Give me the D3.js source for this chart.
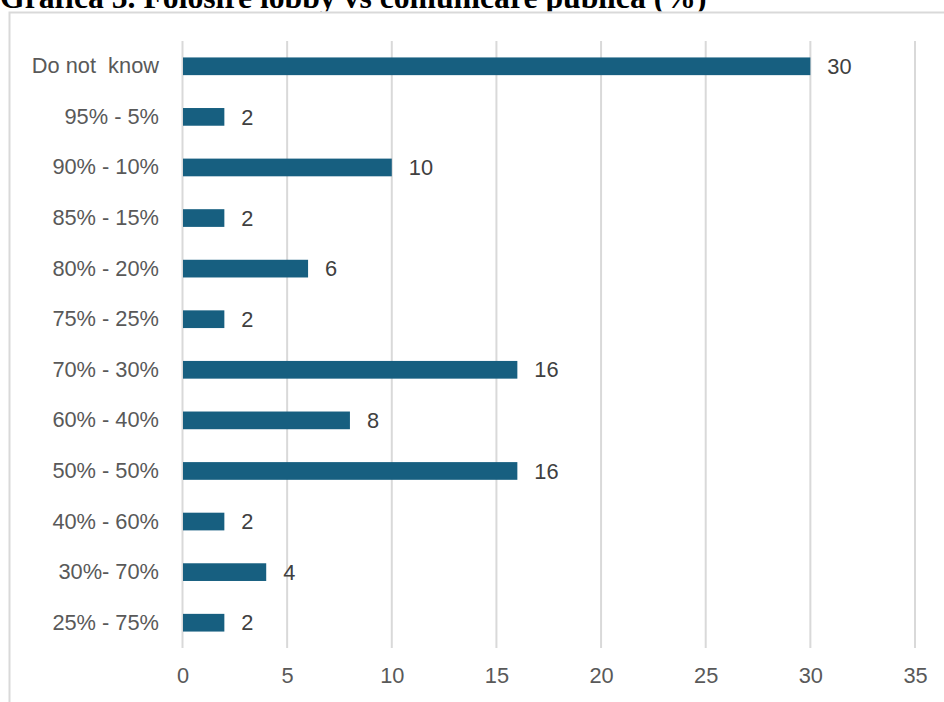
<!DOCTYPE html>
<html>
<head>
<meta charset="utf-8">
<script src="https://cdn.jsdelivr.net/npm/d3@7"></script>
<style>
  html, body { margin: 0; padding: 0; background: #fff; }
  svg { display: block; }
</style>
</head>
<body>
<script>
// Response categories (lobby share vs public communication share)
const categories = [
  "Do not  know", "95% - 5%", "90% - 10%", "85% - 15%", "80% - 20%", "75% - 25%",
  "70% - 30%", "60% - 40%", "50% - 50%", "40% - 60%", "30%- 70%", "25% - 75%"
];
const values = [30, 2, 10, 2, 6, 2, 16, 8, 16, 2, 4, 2];
const tickValues = [0, 5, 10, 15, 20, 25, 30, 35];
const titleText = "Grafica 5. Folosire lobby vs comunicare publica (%)";

const W = 944, H = 702;
const svg = d3.select("body").append("svg").attr("width", W).attr("height", H);

// Title, sitting just above the chart frame
svg.append("text")
  .attr("x", 0).attr("y", 7.5)
  .attr("font-family", "'Liberation Serif', 'Times New Roman', serif")
  .attr("font-weight", "bold")
  .attr("font-size", 31.7)
  .attr("fill", "#000")
  .text(titleText);

// Chart frame: white panel with top and left edges
svg.append("rect")
  .attr("x", 9).attr("y", 11.5).attr("width", W - 9).attr("height", H - 11.5)
  .attr("fill", "#fff");
svg.append("path")
  .attr("d", `M9.5,${H} V12.5 H${W}`)
  .attr("fill", "none")
  .attr("stroke", "#d9d9d9")
  .attr("stroke-width", 2);

const plot = { left: 182.5, right: 915, top: 41, bottom: 648 };

const x = d3.scaleLinear().domain([0, 35]).range([plot.left, plot.right]);
const y = d3.scaleBand().domain(categories).range([plot.top, plot.bottom]).paddingInner(0.65).paddingOuter(0.325);

const font = "'Liberation Sans', Arial, sans-serif";
const fs = 21.8;

// Vertical gridlines
svg.append("g")
  .selectAll("line")
  .data(tickValues)
  .join("line")
  .attr("x1", d => x(d)).attr("x2", d => x(d))
  .attr("y1", plot.top).attr("y2", plot.bottom)
  .attr("stroke", "#d9d9d9")
  .attr("stroke-width", 2);

// X axis labels
const xAxis = d3.axisBottom(x).tickValues(tickValues).tickSize(0).tickPadding(0).tickFormat(d3.format("d"));
const gx = svg.append("g").attr("transform", `translate(0,${plot.bottom + 20})`).call(xAxis);
gx.select(".domain").remove();
gx.selectAll("text")
  .attr("font-family", font).attr("font-size", fs).attr("fill", "#595959");

// Y axis labels
const yAxis = d3.axisLeft(y).tickSize(0).tickPadding(0);
const gy = svg.append("g").attr("transform", `translate(${plot.left - 23.5},0)`).call(yAxis);
gy.select(".domain").remove();
gy.selectAll("text")
  .attr("font-family", font).attr("font-size", fs).attr("fill", "#595959")
  .attr("xml:space", "preserve")
  .style("white-space", "pre");

// Bars
svg.append("g")
  .selectAll("rect")
  .data(categories)
  .join("rect")
  .attr("x", x(0) + 0.5)
  .attr("y", d => y(d))
  .attr("width", (d, i) => x(values[i]) - x(0) - 0.5)
  .attr("height", y.bandwidth())
  .attr("fill", "#175f80");

// Value labels
svg.append("g")
  .selectAll("text")
  .data(categories)
  .join("text")
  .attr("x", (d, i) => x(values[i]) + 17)
  .attr("y", d => y(d) + y.bandwidth() / 2)
  .attr("dy", "0.35em")
  .attr("font-family", font).attr("font-size", fs).attr("fill", "#404040")
  .text((d, i) => values[i]);
</script>
</body>
</html>
